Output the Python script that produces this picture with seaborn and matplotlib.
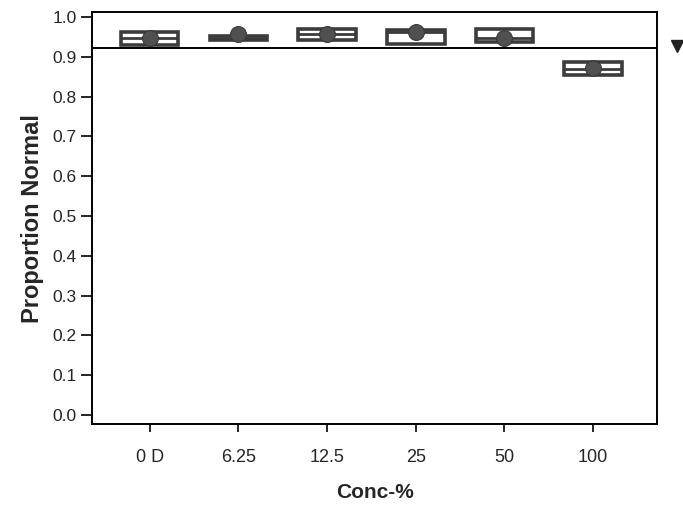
import matplotlib
matplotlib.use("Agg")
import matplotlib.pyplot as plt
import matplotlib.transforms as mtransforms
import seaborn as sns
import pandas as pd

categories = ["0 D", "6.25", "12.5", "25", "50", "100"]
q1_vals = [0.930, 0.943, 0.941, 0.932, 0.938, 0.853]
median_vals = [0.947, 0.948, 0.956, 0.963, 0.946, 0.870]
q3_vals = [0.961, 0.953, 0.971, 0.967, 0.971, 0.886]
mean_vals = [0.948, 0.958, 0.956, 0.963, 0.946, 0.871]
reference_line = 0.922
y_ticks = [0.0, 0.1, 0.2, 0.3, 0.4, 0.5, 0.6, 0.7, 0.8, 0.9, 1.0]

rows = []
for c, a, m, b in zip(categories, q1_vals, median_vals, q3_vals):
    for v in (a, a, m, b, b):
        rows.append({"Conc": c, "Prop": v})
df = pd.DataFrame(rows)
means = pd.DataFrame({"Conc": categories, "Prop": mean_vals})

sns.set_style("white")
plt.rcParams["font.family"] = ["Liberation Sans", "DejaVu Sans"]

fig = plt.figure(figsize=(6.83, 5.08), dpi=100)
ax = fig.add_axes([0.1347, 0.165, 0.8273, 0.811])

dark = "#3c3c3c"
sns.boxplot(data=df, x="Conc", y="Prop", order=categories, ax=ax, width=0.65,
            whis=0, showfliers=False, showcaps=False,
            boxprops=dict(facecolor="white", edgecolor=dark, linewidth=2.6),
            medianprops=dict(color=dark, linewidth=2.0),
            whiskerprops=dict(color=dark, linewidth=0),
            linecolor=dark)
sns.scatterplot(data=means, x="Conc", y="Prop", ax=ax, s=130, color="#505050",
                edgecolor="#3a3a3a", linewidth=0.8, zorder=5)

ax.axhline(reference_line, color="black", linewidth=1.4, zorder=6)
trans = mtransforms.blended_transform_factory(ax.transAxes, ax.transData)
ax.plot([1.035], [reference_line + 0.006], marker="v", color="#222222",
        markersize=9, transform=trans, clip_on=False)

ax.set_ylim(-0.023, 1.012)
ax.set_xlim(-0.65, 5.72)
ax.set_yticks(y_ticks)
ax.set_yticklabels([f"{t:.1f}" for t in y_ticks])

for s in ax.spines.values():
    s.set_visible(True)
    s.set_color("black")
    s.set_linewidth(1.4)

ax.tick_params(axis="y", direction="out", length=8, width=1.2, pad=3,
               labelsize=12.5, left=True, color="black")
ax.tick_params(axis="x", direction="out", length=6, width=1.2, pad=12,
               labelsize=13, bottom=True, color="black")
ax.set_xlabel("Conc-%", fontsize=15, fontweight="bold", labelpad=12)
ax.set_ylabel("Proportion Normal", fontsize=17, fontweight="bold", labelpad=6)

fig.savefig("out.png", dpi=100)
